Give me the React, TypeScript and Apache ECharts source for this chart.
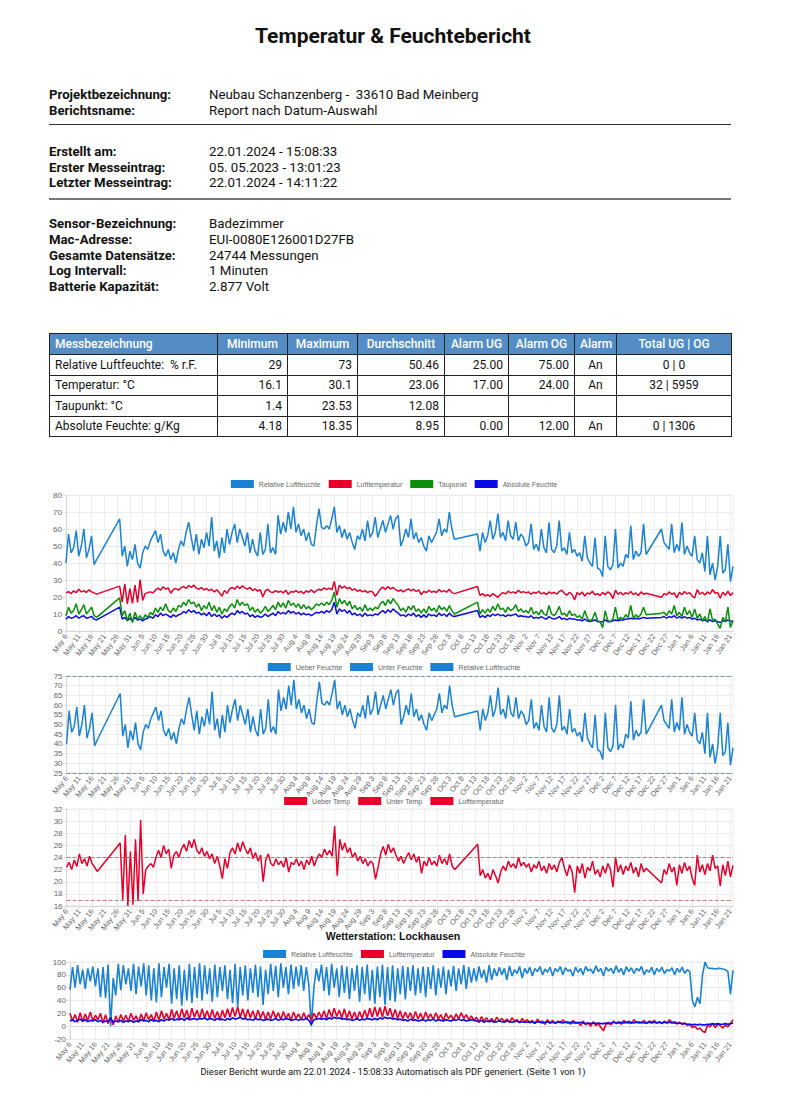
import React, { useEffect, useRef } from "react";
import * as echarts from "echarts";

const N = null;

const MONTHS = ["Jan", "Feb", "Mar", "Apr", "May", "Jun", "Jul", "Aug", "Sep", "Oct", "Nov", "Dec"];
const DAY_COUNT = 262;
const days: string[] = [];
for (let i = 0; i < DAY_COUNT; i++) {
  const d = new Date(2023, 4, 6 + i);
  days.push(MONTHS[d.getMonth()] + " " + d.getDate());
}

// Sensor Badezimmer (daily readings)
const roomRh = [
  40, 57, 46, 49, 59, 44, 50, 60, 43, 48,
  56, 39, 42, N, N, N, N, N, N, N,
  N, 66, 44, 50, 38, 47, 42, 51, 40, 37,
  46, 50, 48, 53, 56, 59, 52, 57, 47, 44,
  48, 42, 46, 40, 48, 53, 50, 58, 64, 55,
  47, 57, 45, 54, 49, 58, 50, 67, 47, 53,
  43, 55, 46, 60, 51, 58, 63, 52, 60, 55,
  50, 58, 46, 54, 47, 44, 58, 45, 48, 63,
  46, 49, 45, 68, 57, 64, 58, 70, 60, 73,
  58, 63, 56, 60, 53, 58, 51, 50, 62, 72,
  61, 60, 62, 60, 66, 73, 58, 62, 55, 60,
  54, 58, 52, 48, 56, 54, 60, 53, 65, 55,
  58, 67, 55, 60, 65, 58, 63, 68, 60, 66,
  68, 50, 54, 60, 55, 66, 54, 58, 52, 55,
  50, 47, 56, 52, 55, 58, 66, 56, 60, 58,
  70, 60, 54, N, N, N, N, N, N, N,
  N, 57, 47, 58, 52, 56, 65, 54, 58, 69,
  55, 58, 53, 65, 56, 54, 64, 53, 57, 55,
  50, 52, 63, 48, 51, 47, 60, 49, 46, 64,
  48, 46, 50, 65, 47, 49, 45, 58, 46, 48,
  44, 46, 41, 56, 43, 40, 38, 55, 37, 36,
  32, 56, 38, 36, 39, 60, 37, 40, 38, 45,
  43, 62, 42, 47, 44, 46, 63, 45, N, N,
  N, N, N, 60, 52, 50, 48, 63, 46, 51,
  47, 64, 45, 50, 46, 44, 56, 42, 40, 46,
  35, 56, 33, 40, 30, 38, 56, 34, 36, 51,
  29, 38,
];

const roomTemp = [
  22.4, 23.2, 22.0, 23.6, 22.5, 24.6, 23.0, 23.8, 22.6, 24.2,
  23.0, 22.4, 21.7, N, N, N, N, N, N, N,
  N, 26.4, 17.0, 27.7, 16.0, 25.0, 16.2, 27.0, 16.8, 30.2,
  18.0, 22.0, 22.6, 23.0, 22.4, 24.0, 25.2, 24.0, 26.0, 24.6,
  25.4, 22.2, 24.4, 25.0, 24.0, 25.4, 26.2, 25.0, 26.8, 25.6,
  27.0, 25.2, 24.6, 25.6, 24.2, 25.0, 23.8, 24.6, 23.0, 24.2,
  22.6, 20.5, 23.8, 22.2, 24.8, 25.6, 24.6, 26.4, 25.0, 26.6,
  25.4, 24.6, 25.6, 23.8, 24.8, 23.4, 24.4, 20.0, 23.6, 24.6,
  23.0, 22.6, 23.8, 22.8, 23.4, 22.4, 24.0, 21.6, 23.2, 22.8,
  23.8, 22.6, 23.4, 22.0, 23.6, 22.8, 24.2, 22.6, 23.8, 24.6,
  24.0, 25.4, 24.4, 25.2, 24.2, 29.2, 21.0, 27.0, 25.2, 26.4,
  24.8, 25.6, 24.0, 24.8, 23.4, 24.2, 23.0, 23.8, 22.6, 23.4,
  23.0, 20.4, 22.4, 24.6, 25.8, 24.4, 26.2, 24.8, 25.6, 24.4,
  23.4, 24.2, 23.0, 24.0, 24.8, 23.6, 24.6, 23.2, 24.2, 21.4,
  23.4, 22.6, 24.0, 22.8, 23.4, 22.6, 24.4, 23.0, 23.8, 22.8,
  24.6, 22.6, 22.0, N, N, N, N, N, N, N,
  N, 26.2, 21.0, 22.0, 20.6, 21.4, 20.3, 22.0, 21.0, 19.8,
  21.6, 22.6, 21.8, 23.4, 22.4, 23.0, 22.2, 24.0, 22.6, 23.2,
  22.4, 23.0, 21.6, 22.8, 22.2, 23.4, 21.8, 22.6, 21.4, 23.0,
  22.0, 22.8, 21.6, 23.2, 24.0, 22.2, 21.0, 22.8, 21.6, 18.2,
  22.6, 21.4, 23.0, 20.6, 22.4, 21.8, 23.4, 21.2, 22.0, 20.8,
  22.6, 21.4, 23.0, 22.0, 19.1, 24.0, 21.6, 22.8, 21.2, 22.6,
  21.8, 23.2, 21.4, 22.4, 20.8, 23.0, 21.6, 22.2, N, N,
  N, N, N, 19.8, 22.0, 21.2, 23.0, 21.6, 22.4, 19.4,
  22.8, 21.4, 23.2, 21.8, 22.6, 20.6, 19.4, 24.4, 21.6, 22.8,
  21.2, 23.0, 21.8, 24.4, 22.2, 22.6, 19.3, 22.8, 21.0, 23.4,
  20.8, 22.7,
];

const roomDew = [
  9.0, 14.0, 10.5, 12.0, 16.0, 10.0, 12.5, 15.5, 10.0, 12.0,
  14.0, 9.0, 8.0, N, N, N, N, N, N, N,
  N, 19.5, 9.0, 12.0, 6.0, 10.5, 5.0, 11.0, 7.0, 9.0,
  6.5, 9.5, 8.0, 11.0, 9.5, 13.5, 11.0, 14.0, 12.0, 16.0,
  12.0, 11.0, 13.5, 11.5, 15.0, 14.0, 17.0, 15.0, 18.5, 16.0,
  17.0, 14.0, 16.0, 12.0, 15.0, 13.0, 17.0, 12.0, 15.0, 11.0,
  14.0, 10.0, 13.0, 11.5, 14.5, 16.0, 13.5, 18.5, 15.0, 17.0,
  15.0, 16.0, 12.0, 14.0, 11.0, 13.0, 10.5, 12.0, 14.5, 11.5,
  13.0, 15.0, 12.5, 17.0, 14.0, 16.5, 13.5, 18.0, 15.0, 16.5,
  14.0, 16.0, 13.0, 15.5, 13.0, 14.5, 12.5, 14.0, 16.0, 15.0,
  16.5, 15.0, 17.0, 15.5, 18.0, 23.0, 14.0, 19.0, 16.0, 18.0,
  15.0, 17.5, 13.0, 15.0, 12.5, 14.0, 11.5, 15.5, 12.0, 13.5,
  12.0, 14.0, 13.0, 16.0, 17.5, 15.0, 18.5, 16.0, 19.0, 17.0,
  15.0, 12.0, 13.5, 11.0, 14.5, 12.5, 15.0, 11.5, 13.0, 10.5,
  13.0, 10.5, 14.5, 12.0, 13.5, 11.0, 15.0, 12.5, 14.0, 11.5,
  15.0, 12.0, 10.0, N, N, N, N, N, N, N,
  N, 17.0, 10.0, 12.5, 10.5, 13.0, 11.0, 14.5, 12.0, 16.0,
  12.5, 13.5, 11.0, 14.0, 12.0, 13.0, 15.5, 11.5, 13.0, 11.0,
  12.0, 10.5, 14.0, 10.0, 11.5, 9.5, 12.5, 10.0, 9.0, 15.0,
  10.0, 9.0, 11.0, 14.5, 9.5, 10.5, 8.5, 12.0, 9.0, 10.0,
  8.0, 9.0, 7.0, 12.0, 7.5, 6.0, 7.0, 11.0, 6.0, 5.5,
  2.0, 12.0, 6.0, 5.5, 7.0, 14.0, 6.5, 8.0, 7.0, 9.5,
  8.0, 15.0, 7.5, 9.5, 8.0, 10.0, 14.0, 9.5, N, N,
  N, N, N, 10.5, 11.0, 9.0, 12.0, 10.0, 15.0, 9.0,
  11.0, 8.5, 14.0, 9.5, 12.0, 8.0, 13.0, 7.5, 10.0, 6.0,
  8.5, 5.0, 13.0, 6.5, 7.0, 4.0, 1.5, 8.0, 5.5, 14.0,
  2.0, 6.0,
];

const roomAbs = [
  7.0, 8.5, 7.5, 8.0, 9.0, 7.5, 8.5, 9.0, 7.5, 8.0,
  8.5, 7.0, 6.5, N, N, N, N, N, N, N,
  N, 14.0, 7.0, 8.0, 6.0, 7.5, 6.0, 8.0, 6.5, 7.0,
  6.0, 7.0, 7.5, 8.5, 7.5, 9.5, 8.5, 10.5, 9.0, 10.0,
  9.0, 8.0, 9.5, 8.5, 9.5, 10.0, 11.5, 10.5, 12.5, 11.0,
  12.0, 10.5, 11.0, 9.5, 10.5, 9.0, 11.0, 8.5, 10.0, 8.5,
  9.5, 7.5, 9.0, 8.0, 9.5, 10.5, 9.5, 12.0, 10.5, 11.5,
  10.0, 10.5, 8.5, 9.5, 8.0, 9.0, 8.0, 8.5, 10.0, 8.5,
  9.5, 10.5, 9.0, 11.5, 10.0, 11.0, 10.0, 12.0, 10.5, 11.5,
  10.0, 11.0, 9.5, 10.5, 9.5, 10.0, 9.0, 10.0, 11.0, 10.5,
  11.5, 10.5, 12.0, 11.0, 12.5, 17.0, 10.0, 13.0, 11.5, 12.5,
  10.5, 12.0, 9.5, 10.5, 9.0, 10.0, 8.5, 10.5, 9.0, 9.5,
  9.0, 10.0, 9.5, 11.0, 12.0, 10.5, 12.5, 11.0, 13.0, 11.5,
  10.5, 9.0, 9.5, 8.5, 10.0, 9.0, 10.5, 8.5, 9.5, 8.0,
  9.5, 8.0, 10.0, 9.0, 9.5, 8.5, 10.5, 9.0, 10.0, 8.5,
  10.5, 9.0, 8.5, N, N, N, N, N, N, N,
  N, 12.0, 8.0, 9.0, 8.0, 9.5, 8.5, 10.0, 9.0, 10.0,
  9.0, 9.5, 8.5, 9.5, 9.0, 9.5, 10.0, 8.5, 9.0, 8.5,
  8.5, 8.0, 9.0, 7.5, 8.0, 7.5, 8.5, 7.5, 7.0, 8.5,
  7.5, 7.0, 7.5, 8.5, 7.0, 7.5, 6.5, 7.5, 7.0, 7.0,
  6.5, 6.5, 6.0, 7.0, 6.0, 5.5, 6.0, 6.5, 5.5, 5.5,
  5.5, 6.5, 5.5, 5.5, 6.0, 6.5, 6.0, 6.5, 6.5, 7.0,
  7.0, 7.5, 7.0, 7.5, 7.0, 7.5, 8.0, 7.5, N, N,
  N, N, N, 8.0, 8.5, 7.5, 8.5, 8.0, 9.0, 7.5,
  8.5, 7.5, 8.5, 7.5, 8.0, 7.0, 7.5, 6.5, 7.0, 6.0,
  6.5, 5.5, 6.5, 5.5, 6.0, 5.5, 5.0, 6.0, 5.5, 6.5,
  5.5, 6.0,
];

// Wetterstation Lockhausen
const stationRh = [
  57, 92, 60, 95, 65, 88, 58, 90, 70, 93,
  62, 90, 45, 92, 44, 96, 0, 75, 48, 97,
  56, 95, 65, 90, 55, 97, 50, 93, 62, 98,
  48, 95, 40, 90, 37, 98, 45, 92, 60, 97,
  35, 90, 42, 95, 32, 88, 40, 97, 36, 92,
  44, 98, 40, 95, 50, 90, 38, 96, 45, 92,
  55, 95, 42, 88, 36, 97, 30, 92, 48, 95,
  40, 90, 52, 96, 45, 93, 33, 88, 50, 97,
  55, 94, 45, 98, 60, 92, 50, 96, 58, 93,
  62, 95, 55, 92, 65, 0, 60, 90, 70, 96,
  55, 92, 48, 97, 60, 90, 45, 95, 52, 93,
  42, 90, 55, 95, 38, 92, 50, 96, 40, 88,
  35, 93, 45, 96, 33, 92, 40, 95, 38, 90,
  50, 94, 42, 92, 55, 95, 48, 90, 52, 93,
  45, 92, 58, 95, 48, 90, 60, 93, 50, 88,
  62, 94, 55, 90, 65, 95, 58, 92, 68, 90,
  70, 93, 75, 88, 68, 95, 72, 90, 78, 92,
  80, 90, 72, 94, 78, 88, 82, 93, 75, 90,
  82, 92, 78, 90, 85, 93, 80, 89, 84, 92,
  78, 90, 85, 93, 80, 91, 86, 88, 78, 92,
  84, 90, 80, 93, 86, 89, 82, 94, 85, 90,
  78, 92, 86, 90, 82, 94, 84, 90, 80, 93,
  85, 91, 82, 90, 86, 93, 80, 88, 84, 92,
  80, 90, 85, 92, 82, 88, 86, 91, 80, 90,
  84, 92, 82, 88, 85, 40, 30, 45, 35, 80,
  100, 91, 90, 90, 89, 90, 90, 89, 88, 85,
  50, 87,
];

const stationTemp = [
  20, 8, 18, 6, 21, 7, 19, 9, 22, 8,
  17, 10, 20, 5, 18, 4, 14, 2, 16, 6,
  18, 8, 17, 7, 20, 9, 16, 6, 19, 8,
  21, 10, 18, 7, 22, 9, 24, 11, 20, 10,
  26, 12, 24, 11, 27, 13, 25, 10, 28, 14,
  25, 12, 27, 13, 24, 11, 26, 12, 23, 10,
  25, 13, 27, 14, 29, 15, 30, 14, 27, 12,
  26, 13, 24, 11, 25, 12, 23, 10, 22, 11,
  24, 12, 21, 10, 23, 11, 20, 9, 22, 12,
  19, 10, 21, 11, 18, 9, 20, 12, 22, 13,
  24, 12, 26, 14, 28, 15, 25, 13, 27, 12,
  24, 11, 22, 10, 23, 12, 25, 13, 28, 14,
  30, 15, 29, 14, 31, 16, 28, 13, 26, 12,
  24, 11, 22, 12, 21, 10, 23, 11, 20, 10,
  22, 12, 19, 10, 21, 11, 18, 9, 20, 12,
  17, 10, 19, 11, 21, 12, 18, 10, 16, 9,
  14, 6, 15, 8, 13, 7, 12, 6, 14, 8,
  12, 7, 11, 6, 13, 8, 10, 5, 12, 7,
  10, 5, 9, 4, 11, 6, 8, 3, 10, 5,
  9, 4, 8, 5, 10, 6, 7, 3, 9, 4,
  6, 1, 8, 2, 5, 0, 7, 1, 4, -2,
  -7, 3, 6, 2, 8, 4, 7, 3, 9, 5,
  8, 4, 10, 6, 7, 5, 9, 4, 8, 6,
  9, 5, 7, 4, 8, 5, 10, 6, 7, 4,
  6, 3, 5, 1, 3, -2, 0, -5, -3, -8,
  -10, 2, -1, 4, -2, 3, 1, -3, 2, -1,
  4, 10,
];

const stationAbs = [
  8, 10, 7, 9, 11, 8, 10, 7, 9, 8,
  10, 7, 9, 6, 8, 7, 13, 6, 8, 7,
  9, 6, 8, 7, 9, 6, 8, 7, 10, 8,
  9, 7, 10, 8, 9, 7, 10, 8, 11, 9,
  12, 9, 11, 10, 12, 9, 13, 10, 11, 12,
  10, 12, 11, 13, 10, 12, 11, 9, 12, 10,
  11, 9, 12, 10, 13, 11, 12, 14, 11, 12,
  10, 11, 9, 12, 10, 11, 9, 10, 11, 9,
  10, 12, 9, 11, 10, 12, 11, 9, 10, 11,
  9, 11, 10, 12, 9, 3, 10, 11, 12, 11,
  12, 10, 13, 11, 14, 12, 13, 11, 12, 10,
  11, 9, 10, 12, 9, 11, 10, 12, 11, 10,
  12, 10, 13, 11, 14, 12, 13, 11, 12, 10,
  11, 9, 10, 8, 11, 9, 10, 8, 9, 10,
  8, 10, 9, 11, 8, 10, 9, 8, 10, 9,
  8, 10, 9, 11, 9, 10, 8, 9, 10, 9,
  8, 7, 9, 6, 8, 7, 8, 6, 7, 8,
  7, 6, 8, 7, 6, 7, 8, 6, 7, 6,
  6, 7, 6, 5, 7, 6, 5, 6, 7, 5,
  6, 5, 6, 7, 5, 6, 5, 6, 5, 6,
  5, 6, 5, 4, 5, 4, 5, 4, 5, 4,
  4, 5, 4, 5, 6, 5, 5, 6, 5, 6,
  5, 6, 5, 6, 5, 6, 5, 5, 6, 5,
  6, 5, 6, 5, 6, 5, 6, 5, 5, 4,
  5, 4, 4, 3, 3, 2, 3, 2, 3, 2,
  2, 3, 3, 4, 3, 4, 3, 3, 4, 3,
  4, 5,
];

// alarm limits
const rhAlarm = { ug: 25, og: 75 };
const tempAlarm = { ug: 17, og: 24 };

const title = "Temperatur & Feuchtebericht";
const info1 = [
  ["Projektbezeichnung:", "Neubau Schanzenberg -  33610 Bad Meinberg"],
  ["Berichtsname:", "Report nach Datum-Auswahl"],
];
const info2 = [
  ["Erstellt am:", "22.01.2024 - 15:08:33"],
  ["Erster Messeintrag:", "05. 05.2023 - 13:01:23"],
  ["Letzter Messeintrag:", "22.01.2024 - 14:11:22"],
];
const info3 = [
  ["Sensor-Bezeichnung:", "Badezimmer"],
  ["Mac-Adresse:", "EUI-0080E126001D27FB"],
  ["Gesamte Datensätze:", "24744 Messungen"],
  ["Log Intervall:", "1 Minuten"],
  ["Batterie Kapazität:", "2.877 Volt"],
];
const tableHead = ["Messbezeichnung", "Minimum", "Maximum", "Durchschnitt", "Alarm UG", "Alarm OG", "Alarm", "Total UG | OG"];
const tableRows = [
  ["Relative Luftfeuchte:  % r.F.", "29", "73", "50.46", "25.00", "75.00", "An", "0 | 0"],
  ["Temperatur: °C", "16.1", "30.1", "23.06", "17.00", "24.00", "An", "32 | 5959"],
  ["Taupunkt: °C", "1.4", "23.53", "12.08", "", "", "", ""],
  ["Absolute Feuchte: g/Kg", "4.18", "18.35", "8.95", "0.00", "12.00", "An", "0 | 1306"],
];
const colWidths = [168, 70, 70, 87, 64, 66, 42, 115];
const colAlign = ["left", "right", "right", "right", "right", "right", "center", "center"];

const C_RH = "#1a82d4";
const C_T = "#e8002b";
const C_DEW = "#0a8f0a";
const C_ABS = "#0a0ae6";

const FONT = "'Liberation Sans', Arial, sans-serif";

function xAxis(rotate: number) {
  return {
    type: "category",
    data: days,
    boundaryGap: false,
    axisLine: { show: true, lineStyle: { color: "#d6d6d6" } },
    axisTick: { show: true, interval: 4, length: 4, lineStyle: { color: "#e2e2e2" } },
    axisLabel: { interval: 4, rotate, fontSize: 7.5, color: "#666", margin: 4, fontFamily: FONT },
    splitLine: { show: true, interval: 4, lineStyle: { color: "#ececec", width: 1 } },
  };
}

function yAxis(min: number, max: number, interval: number) {
  return {
    type: "value",
    min,
    max,
    interval,
    axisLine: { show: true, lineStyle: { color: "#d6d6d6" } },
    axisTick: { show: true, length: 4, lineStyle: { color: "#e2e2e2" } },
    axisLabel: { fontSize: 8, color: "#666", margin: 4, fontFamily: FONT },
    splitLine: { show: true, lineStyle: { color: "#ececec", width: 1 } },
  };
}

function legend(names: string[], top: number) {
  return {
    top,
    left: "center",
    padding: 0,
    data: names,
    icon: "rect",
    itemWidth: 23,
    itemHeight: 8,
    itemGap: 8,
    textStyle: { fontSize: 7, color: "#666", fontFamily: FONT },
  };
}

function line(name: string, data: any[], color: string, width = 1.5) {
  return {
    name,
    type: "line",
    data,
    color,
    showSymbol: false,
    connectNulls: true,
    lineStyle: { width, color },
    emphasis: { disabled: true },
    silent: true,
  };
}

function limit(name: string, value: number, color: string, lineColor: string) {
  return {
    name,
    type: "line",
    data: [],
    color,
    showSymbol: false,
    silent: true,
    markLine: {
      silent: true,
      symbol: "none",
      label: { show: false },
      lineStyle: { type: "dashed", width: 1, color: lineColor },
      data: [{ yAxis: value }],
    },
  };
}

function grid(left: number, top: number, bottom: number) {
  return { left, right: 6, top, bottom, show: true, borderColor: "#ececec", borderWidth: 1 };
}

const opt1 = {
  animation: false,
  legend: legend(["Relative Luftfeuchte", "Lufttemperatur", "Taupunkt", "Absolute Feuchte"], 4),
  grid: grid(17, 19, 45),
  xAxis: xAxis(55),
  yAxis: yAxis(0, 80, 10),
  series: [
    line("Absolute Feuchte", roomAbs, C_ABS),
    line("Taupunkt", roomDew, C_DEW),
    line("Lufttemperatur", roomTemp, C_T),
    line("Relative Luftfeuchte", roomRh, C_RH),
  ],
};

const opt2 = {
  animation: false,
  legend: legend(["Ueber Feuchte", "Unter Feuchte", "Relative Luftfeuchte"], 2),
  grid: grid(17, 15, 38),
  xAxis: xAxis(52),
  yAxis: yAxis(25, 75, 5),
  series: [
    limit("Ueber Feuchte", rhAlarm.og, C_RH, "rgba(110,125,150,0.85)"),
    limit("Unter Feuchte", rhAlarm.ug, C_RH, "rgba(110,125,150,0.85)"),
    line("Relative Luftfeuchte", roomRh, C_RH),
  ],
};

const opt3 = {
  animation: false,
  legend: legend(["Ueber Temp", "Unter Temp", "Lufttemperatur"], 2),
  grid: grid(17, 14, 34),
  xAxis: xAxis(52),
  yAxis: yAxis(16, 32, 2),
  series: [
    limit("Ueber Temp", tempAlarm.og, C_T, "rgba(170,95,95,0.8)"),
    limit("Unter Temp", tempAlarm.ug, C_T, "rgba(170,95,95,0.8)"),
    line("Lufttemperatur", roomTemp, C_T),
  ],
};

const opt4 = {
  animation: false,
  legend: legend(["Relative Luftfeuchte", "Lufttemperatur", "Absolute Feuchte"], 0),
  grid: grid(21, 12, 36),
  xAxis: xAxis(52),
  yAxis: yAxis(-20, 100, 20),
  series: [
    line("Relative Luftfeuchte", stationRh, C_RH, 1.6),
    line("Lufttemperatur", stationTemp, C_T, 1.6),
    line("Absolute Feuchte", stationAbs, C_ABS, 1.6),
  ],
};

function Chart({ option, style }: { option: any; style: React.CSSProperties }) {
  const ref = useRef<HTMLDivElement>(null);
  useEffect(() => {
    if (!ref.current) return;
    const chart = echarts.init(ref.current, undefined, { renderer: "svg" });
    chart.setOption(option);
    return () => chart.dispose();
  }, [option]);
  return <div ref={ref} style={{ position: "absolute", ...style }} />;
}

const textFont = "Roboto, 'Noto Sans', sans-serif";

function InfoBlock({ rows, centers }: { rows: string[][]; centers: number[] }) {
  return (
    <>
      {rows.map((r, i) => (
        <React.Fragment key={i}>
          <div style={{ position: "absolute", left: 49, top: centers[i] - 8, lineHeight: "16px", fontSize: 13.2, fontWeight: 700, whiteSpace: "pre", color: "#111" }}>{r[0]}</div>
          <div style={{ position: "absolute", left: 209, top: centers[i] - 8, lineHeight: "16px", fontSize: 13.3, whiteSpace: "pre", color: "#111" }}>{r[1]}</div>
        </React.Fragment>
      ))}
    </>
  );
}

export default function App() {
  const cellBorder = "1.5px solid #222";
  return (
    <div style={{ position: "absolute", left: 0, top: 0, width: 789, height: 1094, background: "#fff", fontFamily: textFont, color: "#111", overflow: "hidden" }}>
      <div style={{ position: "absolute", left: 0, top: 24, width: 786, textAlign: "center", fontSize: 21, fontWeight: 700, lineHeight: "24px" }}>{title}</div>

      <InfoBlock rows={info1} centers={[95, 111]} />
      <div style={{ position: "absolute", left: 49, top: 124, width: 682, height: 0, borderTop: "1.5px solid #333" }} />
      <InfoBlock rows={info2} centers={[152, 167.5, 183]} />
      <div style={{ position: "absolute", left: 49, top: 198, width: 682, height: 0, borderTop: "2px solid #777" }} />
      <InfoBlock rows={info3} centers={[224, 240, 255.5, 271, 287]} />

      <table style={{ position: "absolute", left: 49, top: 333, borderCollapse: "collapse", fontSize: 12, tableLayout: "fixed", width: 683 }}>
        <colgroup>
          {colWidths.map((w, i) => (
            <col key={i} style={{ width: w }} />
          ))}
        </colgroup>
        <thead>
          <tr style={{ height: 21 }}>
            {tableHead.map((h, i) => (
              <th key={i} style={{ background: "#548dc6", color: "#fff", border: cellBorder, fontWeight: 500, textAlign: i === 0 ? "left" : "center", padding: "0 5px", whiteSpace: "nowrap" }}>{h}</th>
            ))}
          </tr>
        </thead>
        <tbody>
          {tableRows.map((r, ri) => (
            <tr key={ri} style={{ height: 20.5 }}>
              {r.map((c, ci) => (
                <td key={ci} style={{ border: cellBorder, textAlign: colAlign[ci] as any, padding: "0 5px", whiteSpace: "pre", color: "#111" }}>{c}</td>
              ))}
            </tr>
          ))}
        </tbody>
      </table>

      <Chart option={opt1} style={{ left: 49, top: 476, width: 690, height: 200 }} />
      <Chart option={opt2} style={{ left: 49, top: 661, width: 690, height: 150 }} />
      <Chart option={opt3} style={{ left: 49, top: 795, width: 690, height: 145 }} />
      <div style={{ position: "absolute", left: 0, top: 929, width: 786, textAlign: "center", fontFamily: FONT, fontWeight: 700, fontSize: 10.5, lineHeight: "14px", color: "#111" }}>Wetterstation: Lockhausen</div>
      <Chart option={opt4} style={{ left: 49, top: 950, width: 690, height: 125 }} />
      <div style={{ position: "absolute", left: 0, top: 1065, width: 786, textAlign: "center", fontSize: 9.3, lineHeight: "14px", color: "#111" }}>Dieser Bericht wurde am 22.01.2024 - 15:08:33 Automatisch als PDF generiert. (Seite 1 von 1)</div>
    </div>
  );
}
